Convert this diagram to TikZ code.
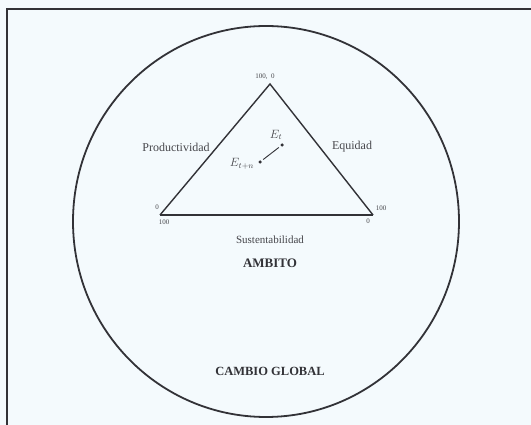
\documentclass[tikz,border=0pt]{standalone}
\usepackage{fontspec}
\usetikzlibrary{shapes.geometric}
\setmainfont{Liberation Serif}
\definecolor{bgc}{RGB}{244,250,253}
\definecolor{ink}{RGB}{50,50,55}
\definecolor{txt}{RGB}{70,70,75}
\begin{document}
\begin{tikzpicture}[x=1pt,y=-1pt,
  lbl/.style={text=txt,font=\fontsize{12}{14}\selectfont,inner sep=0pt},
  tiny/.style={text=txt,font=\fontsize{7}{8}\selectfont,inner sep=0pt},
  dotpt/.style={circle,fill=ink,inner sep=0pt,minimum size=3.5pt},
  edge/.style={draw=ink,line width=1.4pt},
  big/.style={text=ink,font=\bfseries\fontsize{13}{15}\selectfont,inner sep=0pt}]
\useasboundingbox (0,0) rectangle (531,425);
\fill[bgc] (0,0) rectangle (531,425);
% frame
\coordinate (fTR) at (531,9);
\coordinate (fTL) at (7,9);
\coordinate (fBL) at (7,425);
\draw[ink,line width=1.3pt] (fTR) -- (fTL) -- (fBL);
% circle
\node (world) [draw=ink,line width=1.8pt,ellipse,minimum width=386pt,minimum height=391pt,inner sep=0pt] at (266,221.5) {};
% triangle
\coordinate (A) at (270,84);
\coordinate (L) at (160,215);
\coordinate (R) at (373,215);
\draw[edge,line join=miter] (L) -- (A) -- (R);
\draw[edge] (L) -- (R);
% vertex labels
\node (a1) [tiny,anchor=south] at (265,80) {100,\ \ 0};
\node (l1) [tiny] at (157,207) {0};
\node (l2) [tiny] at (164,222) {100};
\node (r1) [tiny] at (381,208) {100};
\node (r2) [tiny] at (368,221) {0};
% side labels
\node (prod) [lbl] at (176,147) {Productividad};
\node (equi) [lbl] at (352,147) {Equidad};
\node (sust) [lbl,font=\fontsize{11}{13}\selectfont] at (270,240) {Sustentabilidad};
\node (amb) [big] at (270,263) {AMBITO};
\node (cg) [big,font=\bfseries\fontsize{12.5}{14}\selectfont] at (270,371) {CAMBIO GLOBAL};
% points
\node (Et) [dotpt] at (282,145) {};
\node (Etn) [dotpt] at (260,162) {};
\node (EtL) [lbl] at (276,135) {$E_t$};
\node (EtnL) [lbl] at (242,164) {$E_{t+n}$};
\draw[ink,line width=0.9pt,shorten <=2pt,shorten >=2pt] (Etn) -- (Et);
\end{tikzpicture}
\end{document}
